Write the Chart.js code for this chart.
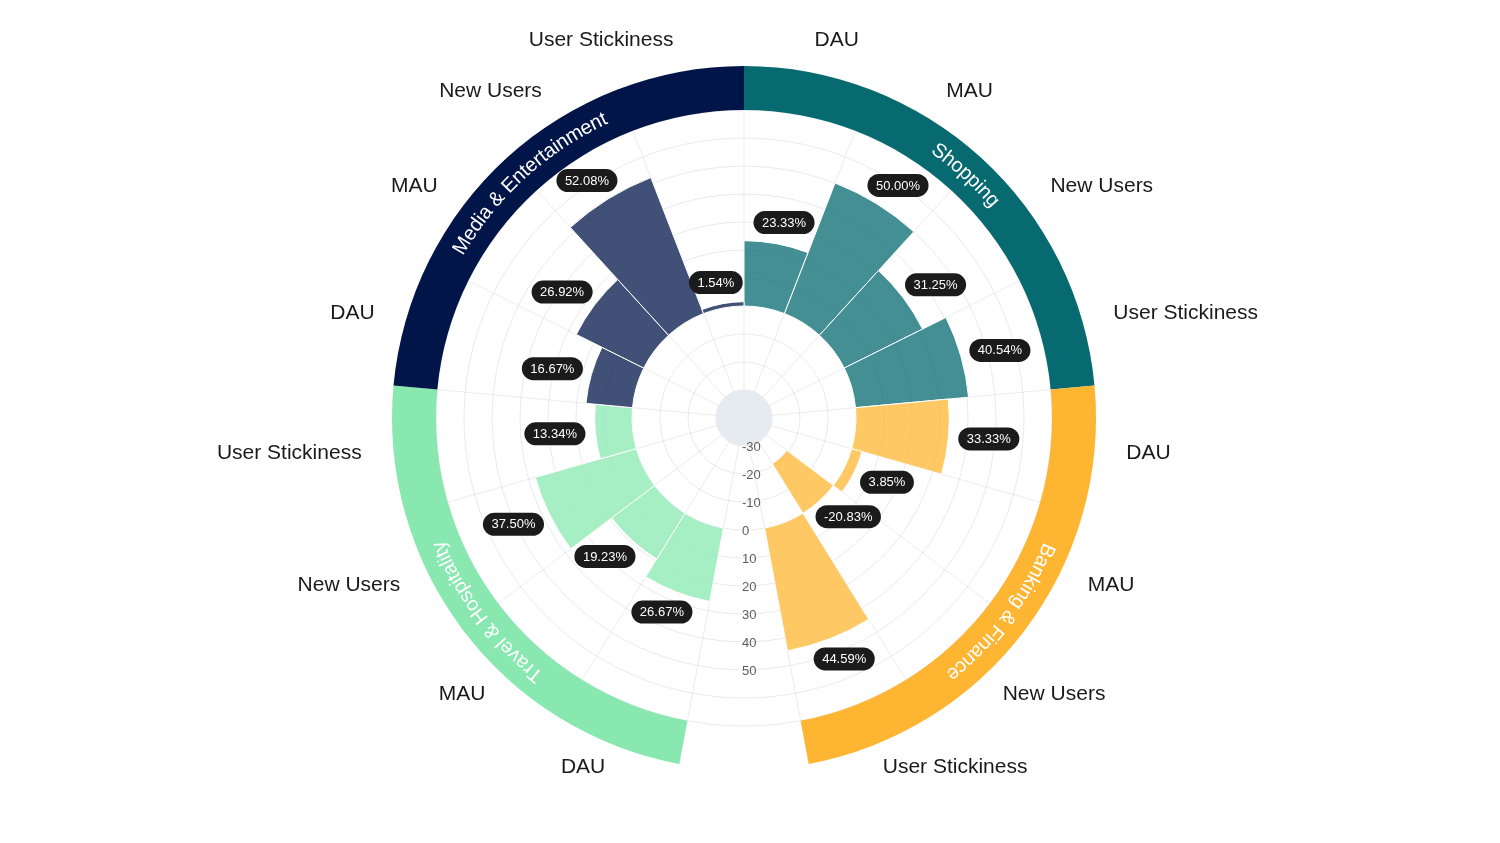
<!DOCTYPE html>
<html>
<head>
<meta charset="utf-8">
<title>Industry metrics</title>
<script src="https://cdn.jsdelivr.net/npm/chart.js@4.4.1/dist/chart.umd.min.js"></script>
<style>
  html, body { margin: 0; padding: 0; background: #fff; }
  #wrap { width: 1500px; height: 843px; }
</style>
</head>
<body>
<div id="wrap"><canvas id="chart"></canvas></div>
<script>
"use strict";

// values
var groups = ['Shopping', 'Banking & Finance', 'Travel & Hospitality', 'Media & Entertainment'];
var metrics = ['DAU', 'MAU', 'New Users', 'User Stickiness'];
var shopping = [23.33, 50.00, 31.25, 40.54];
var banking = [33.33, 3.85, -20.83, 44.59];
var travel = [26.67, 19.23, 37.50, 13.34];
var media = [16.67, 26.92, 52.08, 1.54];
var groupColors = ['#066A70', '#FDB532', '#88E8B0', '#021548'];
var radialMin = -40, radialMax = 70, tickStep = 10;
var shownTicks = [-30, -20, -10, 0, 10, 20, 30, 40, 50];

// one empty slot at the bottom between Banking and Travel
var labels = [], values = [], colors = [], groupOf = [];
[shopping, banking, travel, media].forEach(function(vals, g) {
	if (g === 2) {
		labels.push('');
		values.push(null);
		colors.push('rgba(0,0,0,0)');
		groupOf.push(-1);
	}
	vals.forEach(function(v, i) {
		labels.push(metrics[i]);
		values.push(v);
		colors.push(groupColors[g] + 'BF');
		groupOf.push(g);
	});
});

var FONT = '"Liberation Sans", Arial, sans-serif';

// bars grow from 0 instead of from the centre
var floatingBars = {
	id: 'floatingBars',
	afterDatasetsUpdate: function(chart) {
		var scale = chart.scales.r;
		var base = scale.getDistanceFromCenterForValue(0);
		chart.getDatasetMeta(0).data.forEach(function(arc, i) {
			var end = values[i] === null ? base : scale.getDistanceFromCenterForValue(values[i]);
			arc.innerRadius = Math.min(base, end);
			arc.outerRadius = Math.max(base, end);
		});
	}
};

function curvedText(ctx, text, cx, cy, r, mid) {
	var total = ctx.measureText(text).width;
	var a = mid - total / 2 / r;
	for (var i = 0; i < text.length; i++) {
		var w = ctx.measureText(text[i]).width;
		ctx.save();
		ctx.translate(cx, cy);
		ctx.rotate(a + w / 2 / r + Math.PI / 2);
		ctx.fillText(text[i], 0, -r);
		ctx.restore();
		a += w / r;
	}
}

function roundRect(ctx, x, y, w, h, r) {
	ctx.beginPath();
	ctx.moveTo(x + r, y);
	ctx.arcTo(x + w, y, x + w, y + h, r);
	ctx.arcTo(x + w, y + h, x, y + h, r);
	ctx.arcTo(x, y + h, x, y, r);
	ctx.arcTo(x, y, x + w, y, r);
	ctx.closePath();
}

var decor = {
	id: 'decor',
	afterDraw: function(chart) {
		var ctx = chart.ctx;
		var scale = chart.scales.r;
		var cx = scale.xCenter, cy = scale.yCenter;
		var arcs = chart.getDatasetMeta(0).data;

		// centre disc
		ctx.save();
		ctx.beginPath();
		ctx.arc(cx, cy, scale.getDistanceFromCenterForValue(-30), 0, Math.PI * 2);
		ctx.fillStyle = '#E6EBF2';
		ctx.fill();

		// radial tick labels, drawn downwards in the empty slot
		ctx.font = '13px ' + FONT;
		ctx.fillStyle = '#5c5c5c';
		ctx.textAlign = 'left';
		ctx.textBaseline = 'middle';
		scale.ticks.forEach(function(t) {
			if (shownTicks.indexOf(t.value) < 0) return;
			ctx.fillText(t.label, cx - 2, cy + scale.getDistanceFromCenterForValue(t.value) + 1);
		});

		// group ring with curved names
		var ringIn = scale.drawingArea, ringOut = ringIn + 44;
		groups.forEach(function(name, g) {
			var idx = [];
			groupOf.forEach(function(v, i) { if (v === g) idx.push(i); });
			var a0 = arcs[idx[0]].startAngle, a1 = arcs[idx[idx.length - 1]].endAngle;
			ctx.beginPath();
			ctx.arc(cx, cy, ringOut, a0, a1);
			ctx.arc(cx, cy, ringIn, a1, a0, true);
			ctx.closePath();
			ctx.fillStyle = groupColors[g];
			ctx.fill();
			ctx.fillStyle = '#fff';
			ctx.font = '20px ' + FONT;
			ctx.textAlign = 'center';
			ctx.textBaseline = 'middle';
			curvedText(ctx, name, cx, cy, (ringIn + ringOut) / 2, (a0 + a1) / 2);
		});

		// category labels outside the ring
		ctx.font = '21px ' + FONT;
		ctx.fillStyle = '#1a1a1a';
		ctx.textBaseline = 'middle';
		var labelR = ringIn + 76;
		arcs.forEach(function(arc, i) {
			if (!chart.data.labels[i]) return;
			var mid = (arc.startAngle + arc.endAngle) / 2;
			var dx = Math.cos(mid), dy = Math.sin(mid);
			ctx.textAlign = dx > 0.05 ? 'left' : (dx < -0.05 ? 'right' : 'center');
			ctx.fillText(chart.data.labels[i], cx + dx * labelR, cy + dy * labelR - (dy > 0.3 ? 10 * dy : 0));
		});

		// value pills
		ctx.font = '13px ' + FONT;
		ctx.textAlign = 'center';
		ctx.textBaseline = 'middle';
		arcs.forEach(function(arc, i) {
			if (values[i] === null) return;
			var mid = (arc.startAngle + arc.endAngle) / 2;
			var dx = Math.cos(mid), dy = Math.sin(mid);
			var txt = values[i].toFixed(2) + '%';
			var w = ctx.measureText(txt).width + 17, h = 23;
			var r = arc.outerRadius + 10;
			var px = cx + dx * r + dx * w / 2;
			var py = cy + dy * r + dy * h / 2;
			roundRect(ctx, px - w / 2, py - h / 2, w, h, 11.5);
			ctx.fillStyle = '#1b1b1b';
			ctx.fill();
			ctx.fillStyle = '#fff';
			ctx.fillText(txt, px, py + 0.5);
		});
		ctx.restore();
	}
};

new Chart(document.getElementById('chart'), {
	type: 'polarArea',
	data: {
		labels: labels,
		datasets: [{
			data: values,
			backgroundColor: colors,
			borderColor: '#fff',
			borderWidth: values.map(function(v) { return v === null ? 0 : 1; })
		}]
	},
	options: {
		responsive: true,
		maintainAspectRatio: false,
		animation: false,
		layout: { padding: { top: 110, bottom: 117, left: 0, right: 12 } },
		plugins: {
			legend: { display: false },
			tooltip: { enabled: false }
		},
		scales: {
			r: {
				z: 1,
				min: radialMin,
				max: radialMax,
				startAngle: 0,
				ticks: { display: false, stepSize: tickStep },
				grid: { circular: true, color: 'rgba(0,0,0,0.085)', lineWidth: 1 },
				angleLines: { display: true, color: 'rgba(0,0,0,0.08)', lineWidth: 1 },
				pointLabels: { display: false }
			}
		}
	},
	plugins: [floatingBars, decor]
});
</script>
</body>
</html>
